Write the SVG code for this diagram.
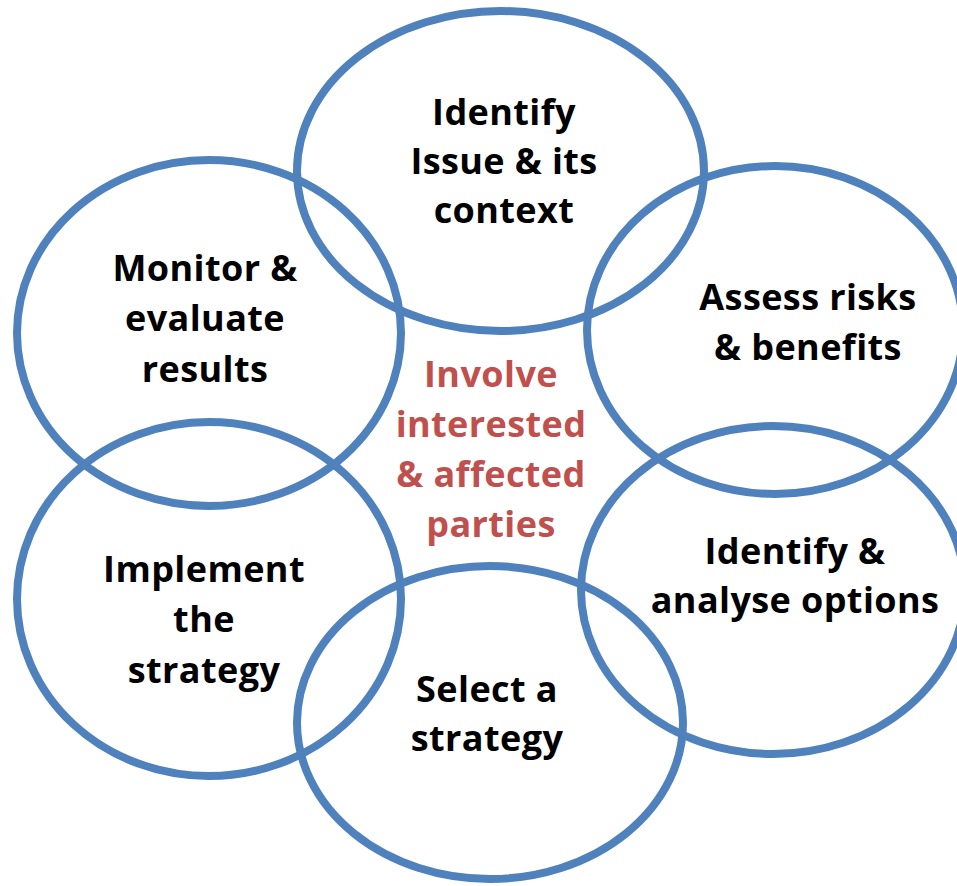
<svg xmlns="http://www.w3.org/2000/svg" width="957" height="886" viewBox="0 0 957 886">
<style>
.c{fill:none;stroke:#4F81BD;stroke-width:8}
.t{font-family:"Open Sans","Liberation Sans",sans-serif;font-weight:bold;font-size:36px;letter-spacing:0.4px;fill:#000;text-anchor:middle}
.r{fill:#C0504D}
</style>
<rect width="957" height="886" fill="#fff"/>
<g id="identify-issue">
<ellipse class="c" cx="500.5" cy="171" rx="203.5" ry="160"/>
<text class="t" x="504" y="125">Identify</text>
<text class="t" x="504" y="174">Issue &amp; its</text>
<text class="t" x="504" y="223">context</text>
</g>
<g id="monitor">
<ellipse class="c" cx="209" cy="333" rx="192" ry="173"/>
<text class="t" x="205" y="281">Monitor &amp;</text>
<text class="t" x="205" y="331">evaluate</text>
<text class="t" x="205" y="382">results</text>
</g>
<g id="assess">
<ellipse class="c" cx="775" cy="330" rx="188" ry="164"/>
<text class="t" x="808" y="310">Assess risks</text>
<text class="t" x="808" y="360">&amp; benefits</text>
</g>
<g id="implement">
<ellipse class="c" cx="209" cy="599" rx="192" ry="177"/>
<text class="t" x="204" y="582">Implement</text>
<text class="t" x="204" y="632">the</text>
<text class="t" x="204" y="683">strategy</text>
</g>
<g id="select">
<ellipse class="c" cx="490" cy="722.5" rx="193" ry="156.5"/>
<text class="t" x="487" y="702">Select a</text>
<text class="t" x="487" y="751">strategy</text>
</g>
<g id="options">
<ellipse class="c" cx="773" cy="590" rx="192" ry="164"/>
<text class="t" x="795" y="564">Identify &amp;</text>
<text class="t" x="795" y="613">analyse options</text>
</g>
<g id="involve">
<text class="t r" x="491" y="387">Involve</text>
<text class="t r" x="491" y="437">interested</text>
<text class="t r" x="491" y="487">&amp; affected</text>
<text class="t r" x="491" y="537">parties</text>
</g>
<g id="connectors"></g>
</svg>
